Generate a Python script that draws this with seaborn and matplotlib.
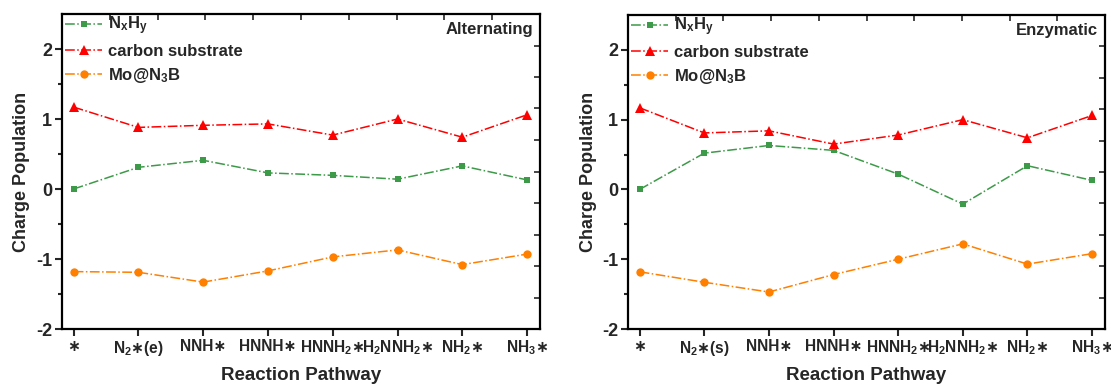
import numpy as np
import pandas as pd
import matplotlib
matplotlib.use("Agg")
import matplotlib.pyplot as plt
import seaborn as sns

sns.set_theme(style="ticks")
plt.rcParams['font.family'] = ['Liberation Sans', 'DejaVu Sans']
plt.rcParams['mathtext.fontset'] = 'custom'
plt.rcParams['mathtext.rm'] = 'Liberation Sans:bold'
plt.rcParams['mathtext.it'] = 'Liberation Sans:bold'
plt.rcParams['mathtext.bf'] = 'Liberation Sans:bold'
plt.rcParams['mathtext.sf'] = 'DejaVu Sans:bold'
plt.rcParams['mathtext.default'] = 'rm'

# ---- data ----
labels_alt = ["∗", "N$_2{\\mathsf{∗}}$(e)", "NNH∗", "HNNH∗", "HNNH$_2{\\mathsf{∗}}$",
              "H$_2$NNH$_2{\\mathsf{∗}}$", "NH$_2{\\mathsf{∗}}$", "NH$_3{\\mathsf{∗}}$"]
labels_enz = ["∗", "N$_2{\\mathsf{∗}}$(s)", "NNH∗", "HNNH∗", "HNNH$_2{\\mathsf{∗}}$",
              "H$_2$NNH$_2{\\mathsf{∗}}$", "NH$_2{\\mathsf{∗}}$", "NH$_3{\\mathsf{∗}}$"]

alt_nxhy = [0.00, 0.31, 0.41, 0.23, 0.195, 0.14, 0.33, 0.13]
alt_carbon = [1.17, 0.88, 0.91, 0.93, 0.77, 1.00, 0.74, 1.06]
alt_mo = [-1.18, -1.19, -1.33, -1.17, -0.97, -0.87, -1.08, -0.93]

enz_nxhy = [0.00, 0.52, 0.63, 0.56, 0.22, -0.21, 0.34, 0.13]
enz_carbon = [1.17, 0.81, 0.84, 0.65, 0.78, 1.00, 0.74, 1.06]
enz_mo = [-1.18, -1.33, -1.47, -1.22, -1.00, -0.78, -1.07, -0.92]

series_names = ["N$_x$H$_y$", "carbon substrate", "Mo@N$_3$B"]
colors = ["#3c9a48", "#ff0000", "#ff8000"]
markers = ["s", "^", "o"]
msizes = [4.8, 7, 6]

fig = plt.figure(figsize=(11.11, 3.87), dpi=100)
ax1 = fig.add_axes([62/1111, 1-329/387, (540-62)/1111, (329-14)/387])
ax2 = fig.add_axes([628/1111, 1-329/387, (1105-628)/1111, (329-15)/387])

panels = [
    (ax1, labels_alt, [alt_nxhy, alt_carbon, alt_mo], "Alternating"),
    (ax2, labels_enz, [enz_nxhy, enz_carbon, enz_mo], "Enzymatic"),
]

for ax, labels, vals, title in panels:
    x = np.arange(len(labels))
    for name, v, c, m, ms in zip(series_names, vals, colors, markers, msizes):
        df = pd.DataFrame({"x": x, "y": v})
        sns.lineplot(data=df, x="x", y="y", ax=ax, color=c, marker=m,
                     markersize=ms, markeredgewidth=0, linestyle="-.",
                     linewidth=1.1, label=name)
    ax.set_xlim(-0.18, 7.2)
    ax.set_ylim(-2, 2.5)
    ax.set_xticks(x)
    ax.set_xticklabels(labels, fontsize=11.2, fontweight="bold")
    ax.set_yticks([-2, -1, 0, 1, 2])
    ax.set_yticklabels(["-2", "-1", "0", "1", "2"], fontsize=13, fontweight="bold")
    ax.set_yticks([-1.5, -0.5, 0.5, 1.5], minor=True)
    ax.tick_params(axis="both", which="major", direction="out", length=5, width=1.5, pad=2)
    ax.tick_params(axis="y", which="minor", direction="out", length=3, width=1.5)
    ax.set_xlabel("Reaction Pathway", fontsize=13.5, fontweight="bold", labelpad=7)
    ax.set_ylabel("Charge Population", fontsize=13, fontweight="bold")
    for sp in ax.spines.values():
        sp.set_linewidth(1.6)
        sp.set_color("black")
    ax.text(0.985, 0.95, title, transform=ax.transAxes, ha="right", va="center",
            fontsize=12, fontweight="bold")
    leg = ax.legend(loc="upper left", frameon=False,
                    prop={"size": 12, "weight": "bold"},
                    handlelength=2.2, handletextpad=0.35, labelspacing=0.4,
                    borderaxespad=0.0, borderpad=0.2, bbox_to_anchor=(0.0, 1.008))
    # top and right inward ticks dividing the frame into 10 parts
    top = ax.secondary_xaxis("top", functions=(
        lambda v, lo=-0.18, hi=7.2: (np.asarray(v) - lo) / (hi - lo),
        lambda f, lo=-0.18, hi=7.2: lo + np.asarray(f) * (hi - lo)))
    top.set_xticks(np.linspace(0, 1, 11))
    top.set_xticklabels([])
    top.tick_params(direction="in", length=4, width=1.2)
    right = ax.secondary_yaxis("right", functions=(
        lambda v: (np.asarray(v) + 2) / 4.5,
        lambda f: -2 + np.asarray(f) * 4.5))
    right.set_yticks(np.linspace(0, 1, 11))
    right.set_yticklabels([])
    right.tick_params(direction="in", length=4, width=1.2)

ax1.yaxis.set_label_coords(-0.066, 0.5)
ax2.yaxis.set_label_coords(-0.066, 0.5)

fig.savefig("out.png", dpi=100)
